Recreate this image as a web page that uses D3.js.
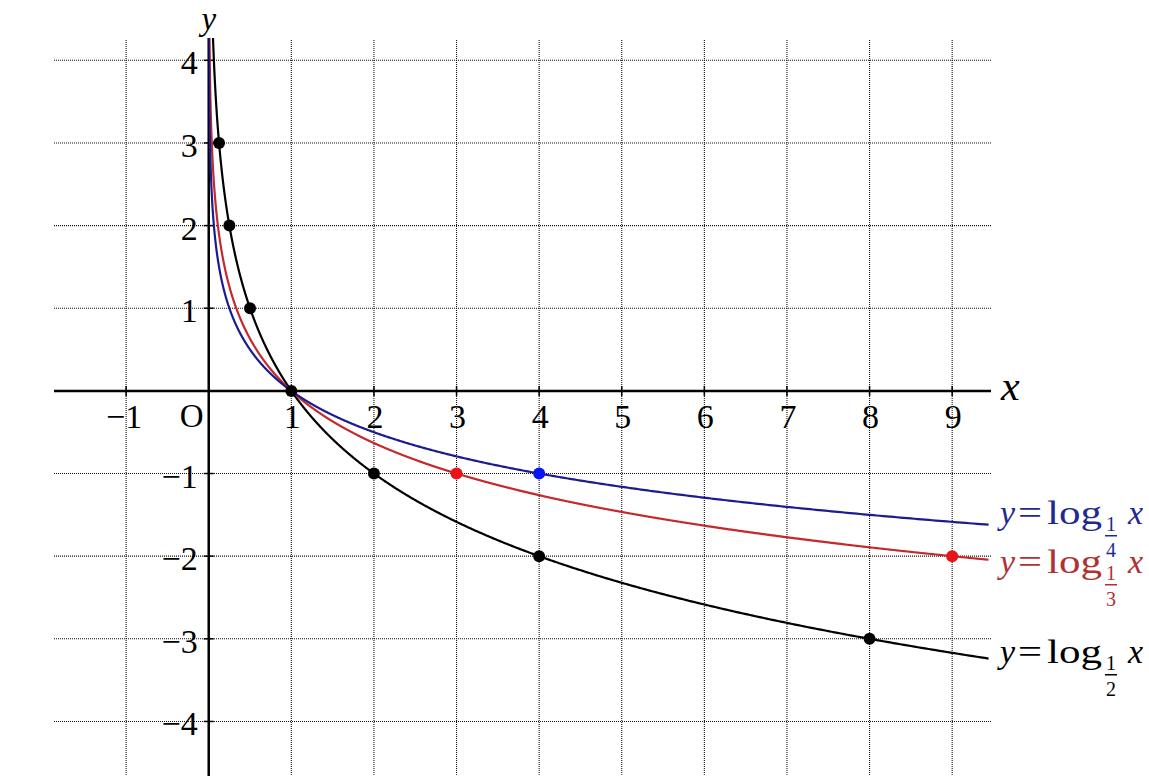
<!DOCTYPE html>
<html>
<head>
<meta charset="utf-8">
<script src="https://cdn.jsdelivr.net/npm/d3@7"></script>
<style>
  html, body { margin: 0; padding: 0; background: #fff; }
  svg { display: block; }
  text { font-family: "Liberation Serif", "Times New Roman", "DejaVu Serif", serif; }
</style>
</head>
<body>
<svg id="chart" width="1149" height="782"></svg>
<script>
// ---- data ----
const xTicks = [-1, 1, 2, 3, 4, 5, 6, 7, 8, 9];
const yTicks = [-4, -3, -2, -1, 1, 2, 3, 4];
const xTickLabels = ["\u22121", "1", "2", "3", "4", "5", "6", "7", "8", "9"];
const yTickLabels = ["\u22124", "\u22123", "\u22122", "\u22121", "1", "2", "3", "4"];

const curveNames = ["half", "third", "quarter"];
const curveBases = [1/2, 1/3, 1/4];
const curveNumerators = ["1", "1", "1"];
const curveDenominators = ["2", "3", "4"];

const halfPointsX = [1/8, 1/4, 1/2, 1, 2, 4, 8];
const halfPointsY = [3, 2, 1, 0, -1, -2, -3];
const thirdPointsX = [3, 9];
const thirdPointsY = [-1, -2];
const quarterPointsX = [4];
const quarterPointsY = [-1];

// ---- layout ----
const svg = d3.select("#chart");
const xMin = -1.873, xMax = 9.47, yMin = -4.66, yMax = 4.27;
const x = d3.scaleLinear().domain([xMin, xMax]).range([54, 991]);
const y = d3.scaleLinear().domain([yMin, yMax]).range([776, 38]);
const gridTop = 4.245, gridBottom = -4.645;

const curveColors = {half: "#000000", third: "#c4292b", quarter: "#1c1c90"};
const pointColors = {half: "#000000", third: "#e8141a", quarter: "#0a14f5"};
const labelColors = {half: "#000000", third: "#b03131", quarter: "#1f2a8c"};

// grid
const grid = svg.append("g").attr("stroke", "#111").attr("stroke-width", 1.1).attr("stroke-dasharray", "1,1");
grid.selectAll("line.v").data(xTicks).join("line")
  .attr("x1", d => x(d)).attr("x2", d => x(d))
  .attr("y1", y(gridTop)).attr("y2", y(gridBottom));
grid.selectAll("line.h").data(yTicks).join("line")
  .attr("x1", x(xMin)).attr("x2", x(xMax))
  .attr("y1", d => y(d)).attr("y2", d => y(d));

// axes
const axes = svg.append("g").attr("stroke", "#000").attr("stroke-width", 2.5);
axes.append("line").attr("x1", x(xMin)).attr("x2", x(xMax)).attr("y1", y(0)).attr("y2", y(0));
axes.append("line").attr("x1", x(0)).attr("x2", x(0)).attr("y1", y(yMax)).attr("y2", y(yMin));
const ticks = svg.append("g").attr("stroke", "#000").attr("stroke-width", 1.5);
ticks.selectAll("line.xt").data(xTicks).join("line")
  .attr("x1", d => x(d)).attr("x2", d => x(d)).attr("y1", y(0) - 5).attr("y2", y(0) + 5);
ticks.selectAll("line.yt").data(yTicks).join("line")
  .attr("y1", d => y(d)).attr("y2", d => y(d)).attr("x1", x(0) - 5).attr("x2", x(0) + 5);

// tick labels
svg.append("g").selectAll("text").data(xTicks).join("text")
  .attr("x", (d, i) => x(d) + (d < 0 ? -2 : 1))
  .attr("y", y(0) + 37)
  .attr("text-anchor", "middle")
  .attr("font-size", 34)
  .text((d, i) => xTickLabels[i]);
svg.append("text").attr("x", x(0) - 17).attr("y", y(0) + 36)
  .attr("text-anchor", "middle").attr("font-size", 33).text("O");
svg.append("g").selectAll("text").data(yTicks).join("text")
  .attr("x", x(0) - 11)
  .attr("y", d => y(d) + 14)
  .attr("text-anchor", "end")
  .attr("font-size", 34)
  .text((d, i) => yTickLabels[i]);

// axis names
svg.append("text").attr("x", x(0)).attr("y", 30).attr("text-anchor", "middle")
  .attr("font-size", 33).attr("font-style", "italic").text("y");
svg.append("text").attr("x", 1001).attr("y", y(0) + 9)
  .attr("font-size", 42).attr("font-style", "italic").text("x");

// curves
svg.append("defs").append("clipPath").attr("id", "plotclip")
  .append("rect").attr("x", x(0)).attr("y", y(yMax)).attr("width", x(xMax) - x(0)).attr("height", y(yMin) - y(yMax));
const sampleExp = d3.range(-12, Math.log(xMax) + 0.0005, 0.005);
const line = d3.line().x(d => x(d[0])).y(d => y(d[1]));
const curvesG = svg.append("g").attr("clip-path", "url(#plotclip)");
curveNames.forEach((name, i) => {
  const b = curveBases[i];
  const pts = sampleExp.map(e => { const xv = Math.exp(e); return [xv, Math.log(xv) / Math.log(b)]; })
    .filter(p => p[1] <= yMax + 0.3);
  curvesG.append("path").datum(pts).attr("d", line)
    .attr("fill", "none").attr("stroke", curveColors[name]).attr("stroke-width", 2.2);
});

// points
function drawPoints(xs, ys, color, r) {
  svg.append("g").selectAll("circle").data(xs).join("circle")
    .attr("cx", d => x(d)).attr("cy", (d, i) => y(ys[i])).attr("r", r).attr("fill", color);
}
drawPoints(thirdPointsX, thirdPointsY, pointColors.third, 6);
drawPoints(quarterPointsX, quarterPointsY, pointColors.quarter, 6);
drawPoints(halfPointsX, halfPointsY, pointColors.half, 6);

// labels
const labelBaselines = {quarter: 524, third: 573, half: 663};
curveNames.forEach((name, i) => {
  const g = svg.append("g").attr("fill", labelColors[name]);
  const yb = labelBaselines[name];
  g.append("text").attr("x", 1000).attr("y", yb).attr("font-size", 34).attr("font-style", "italic").text("y");
  g.append("text").attr("x", 1018).attr("y", yb).attr("font-size", 34)
    .attr("textLength", 24).attr("lengthAdjust", "spacingAndGlyphs").text("=");
  g.append("text").attr("x", 1047).attr("y", yb).attr("font-size", 34)
    .attr("textLength", 55).attr("lengthAdjust", "spacingAndGlyphs").text("log");
  g.append("text").attr("x", 1111).attr("y", yb + 7).attr("font-size", 20).attr("text-anchor", "middle").text(curveNumerators[i]);
  g.append("rect").attr("x", 1105).attr("y", yb + 11).attr("width", 12).attr("height", 1.5);
  g.append("text").attr("x", 1111).attr("y", yb + 33).attr("font-size", 20).attr("text-anchor", "middle").text(curveDenominators[i]);
  g.append("text").attr("x", 1128).attr("y", yb).attr("font-size", 34).attr("font-style", "italic").text("x");
});
</script>
</body>
</html>
